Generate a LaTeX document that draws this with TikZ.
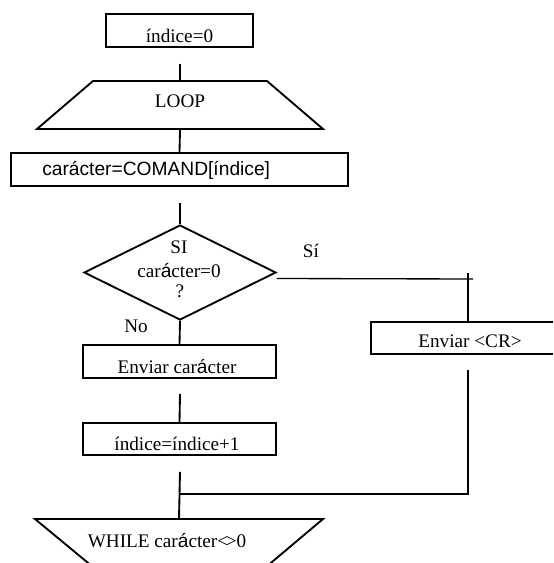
\documentclass[tikz,border=0pt]{standalone}
\usepackage{fontspec}
\setmainfont{Liberation Serif}
\newfontfamily\sansf{Liberation Sans}
\usetikzlibrary{shapes.geometric}
\newcommand{\aacc}{{\sansf á}}
\begin{document}
\begin{tikzpicture}[x=0.75pt,y=-0.75pt,
  every node/.style={font=\fontsize{14.4}{17}\selectfont},
  shapeline/.style={line width=1.4pt},
  procbox/.style={draw,shapeline,rectangle,inner sep=0pt},
  decision/.style={draw,shapeline,diamond,inner sep=0pt,minimum width=144pt,minimum height=71.25pt},
  frame/.style={inner sep=0pt},
  txt/.style={inner sep=0pt,anchor=base},
  flow/.style={line width=1.4pt},
  thinflow/.style={line width=1pt}]
\useasboundingbox (0,0) rectangle (553,563);

% process boxes and decision
\node[procbox,minimum width=110.25pt,minimum height=24.75pt] (init) at (179.5,30.5) {};
\node[procbox,minimum width=252.75pt,minimum height=24.75pt] (fetch) at (179.5,169.5) {};
\node[decision] (test) at (180,272.5) {};
\node[procbox,minimum width=144.75pt,minimum height=24.75pt] (sendch) at (179.5,361.5) {};
\node[procbox,minimum width=144.75pt,minimum height=24pt] (incr) at (179.5,439) {};
% this box runs on past the right margin: only its top, left and bottom sides show
\node[frame,minimum width=136.5pt,minimum height=24pt] (sendcr) at (462,338) {};
\draw[shapeline] (sendcr.north east) -- (sendcr.north west)
  -- (sendcr.south west) -- (sendcr.south east);

% loop head and tail (trapezoids)
\node[frame,minimum width=214.5pt,minimum height=36pt] (loop) at (180,105) {};
\draw[shapeline] (93,81) -- (267,81) -- (323,129) -- (37,129) -- cycle;
\node[frame,minimum width=216pt,minimum height=36pt] (while) at (179,543) {};
\begin{scope}
\clip (0,0) rectangle (553,563);
\draw[shapeline] (35,519) -- (323,519) -- (266,567) -- (93,567) -- cycle;
\end{scope}

% texts
\node[txt] at (179.5,43) {índice=0};
\node[txt] at (180,108) {LOOP};
\node[txt,anchor=base west] at (42,175) {\sansf carácter=COMAND[índice]};
\node[txt] at (179,253) {SI};
\node[txt] at (179,277) {car\aacc cter=0};
\node[txt] at (180,297) {?};
\node[txt] at (311,257) {Sí};
\node[txt] at (136,332) {No};
\node[txt] at (177,373) {Enviar car\aacc cter};
\node[txt] at (470,347) {Enviar <CR>};
\node[txt] at (177,450) {índice=índice+1};
\node[txt] at (167,547) {WHILE car\aacc cter<\kern-0.12em>0};

% connectors
\coordinate (siend) at (473,279);
\coordinate (sitick) at (468,273);
\coordinate (merge) at (180,494);
\draw[flow] ([shift={(0.5,16)}]init.south) -- (loop.north);
\draw[flow] (loop.south) -- (fetch.north);
\draw[flow] ([shift={(0.5,16)}]fetch.south) -- (test.north);
\draw[flow] (test.south) -- (sendch.north);
\draw[flow] ([shift={(0.5,15)}]sendch.south) -- (incr.north);
\draw[flow] ([shift={(0.5,16)}]incr.south) -- (while.north);
\draw[thinflow] ([shift={(0,6)}]test.east) -- (siend);
\draw[flow] (sitick) -- (sitick |- sendcr.north);
\draw[flow] (sitick |- sendcr.south) ++(0,16) -- (sitick |- merge) -- (merge);
\end{tikzpicture}
\end{document}
